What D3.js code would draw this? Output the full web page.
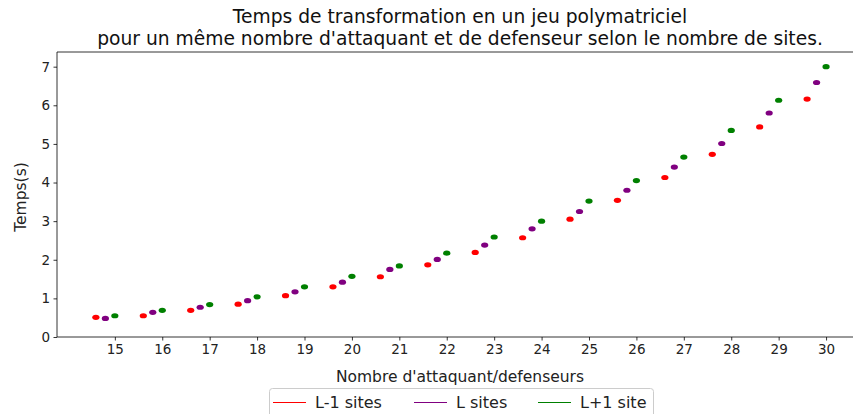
<!DOCTYPE html>
<html>
<head>
<meta charset="utf-8">
<script src="https://cdn.jsdelivr.net/npm/d3@7"></script>
<style>
  html, body { margin: 0; padding: 0; background: #fff; }
  svg { display: block; font-family: "DejaVu Sans", sans-serif; }
</style>
</head>
<body>
<svg id="chart" width="853" height="414"></svg>
<script>
// Number of attackers / defenders (x categories)
const players = [15, 16, 17, 18, 19, 20, 21, 22, 23, 24, 25, 26, 27, 28, 29, 30];
// Transformation time in seconds for each site count
const timeLminus1 = [0.51, 0.55, 0.69, 0.85, 1.07, 1.30, 1.56, 1.87, 2.19, 2.57, 3.05, 3.54, 4.13, 4.73, 5.44, 6.16];
const timeL       = [0.48, 0.64, 0.77, 0.94, 1.17, 1.42, 1.75, 2.01, 2.38, 2.80, 3.25, 3.80, 4.40, 5.01, 5.80, 6.59];
const timeLplus1  = [0.55, 0.69, 0.84, 1.04, 1.30, 1.57, 1.84, 2.17, 2.59, 3.00, 3.52, 4.05, 4.66, 5.35, 6.13, 7.00];
const yTicks = [0, 1, 2, 3, 4, 5, 6, 7];

const series = [
  { label: "L-1 sites", color: "red",    offset: -0.4, values: timeLminus1 },
  { label: "L sites",   color: "purple", offset: -0.2, values: timeL },
  { label: "L+1 site",  color: "green",  offset: 0.0,  values: timeLplus1 }
];

const svg = d3.select("#chart");
const plotLeft = 57, plotRight = 864, plotTop = 52, plotBottom = 337;

const x = d3.scaleLinear().domain([13.78, 30.8]).range([plotLeft, plotRight]);
const y = d3.scaleLinear().domain([0, 7.38]).range([plotBottom, plotTop]);

// Axes
const xAxis = svg.append("g")
  .attr("transform", `translate(0,${plotBottom})`)
  .call(d3.axisBottom(x).tickValues(players).tickFormat(d3.format("d")).tickSizeOuter(0).tickSize(3.5).tickPadding(3.5));
const yAxis = svg.append("g")
  .attr("transform", `translate(${plotLeft},0)`)
  .call(d3.axisLeft(y).tickValues(yTicks).tickFormat(d3.format("d")).tickSizeOuter(0).tickSize(3.5).tickPadding(3.5));

[xAxis, yAxis].forEach(g => {
  g.select(".domain").remove();
  g.selectAll(".tick line").attr("stroke", "#000").attr("stroke-width", 0.8);
  g.selectAll(".tick text").attr("fill", "#222").style("font-size", "13.5px").style("font-family", "DejaVu Sans, sans-serif");
});

// Spines: left, bottom, top, right
const spine = (x1, y1, x2, y2) => svg.append("line")
  .attr("x1", x1).attr("y1", y1).attr("x2", x2).attr("y2", y2)
  .attr("stroke", "#000").attr("stroke-width", 0.8);
spine(plotLeft, plotTop, plotLeft, plotBottom);
spine(plotLeft, plotBottom, plotRight, plotBottom);
spine(plotLeft, plotTop, plotRight, plotTop);
spine(plotRight, plotTop, plotRight, plotBottom);

// Points
series.forEach(s => {
  svg.append("g").selectAll("ellipse")
    .data(players.map((p, i) => ({ p, v: s.values[i] })))
    .join("ellipse")
    .attr("cx", d => x(d.p + s.offset))
    .attr("cy", d => y(d.v))
    .attr("rx", 3.6)
    .attr("ry", 2.6)
    .attr("fill", s.color);
});

// Title
const title = svg.append("text").attr("text-anchor", "middle").attr("fill", "#111")
  .style("font-size", "18.7px");
title.append("tspan").attr("x", 460).attr("y", 23).text("Temps de transformation en un jeu polymatriciel");
title.append("tspan").attr("x", 460).attr("y", 45).text("pour un même nombre d'attaquant et de defenseur selon le nombre de sites.");

// Axis labels
svg.append("text").attr("x", 460).attr("y", 382).attr("text-anchor", "middle")
  .attr("fill", "#222").style("font-size", "15.5px").text("Nombre d'attaquant/defenseurs");
svg.append("text").attr("transform", `translate(26,197) rotate(-90)`)
  .attr("text-anchor", "middle").attr("fill", "#222").style("font-size", "15.5px").text("Temps(s)");

// Legend
const lg = svg.append("g");
lg.append("rect").attr("x", 269.5).attr("y", 388.5).attr("width", 384).attr("height", 30)
  .attr("rx", 3).attr("fill", "#fff").attr("stroke", "#ccc").attr("stroke-width", 1);
const legendX = [273, 414, 538];
series.forEach((s, i) => {
  lg.append("line").attr("x1", legendX[i]).attr("x2", legendX[i] + 33)
    .attr("y1", 402.5).attr("y2", 402.5).attr("stroke", s.color).attr("stroke-width", 1.2);
  lg.append("text").attr("x", legendX[i] + 42).attr("y", 408)
    .attr("fill", "#222").style("font-size", "16px").text(s.label);
});
</script>
</body>
</html>
